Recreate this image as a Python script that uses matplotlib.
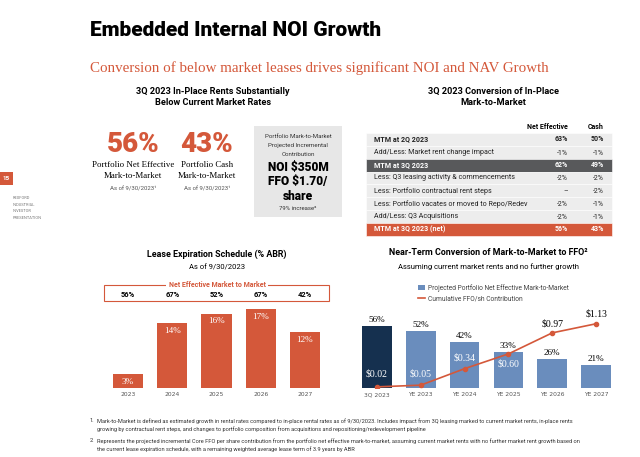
import numpy as np
import matplotlib.pyplot as plt
import matplotlib.transforms as mtransforms
from matplotlib.patches import Rectangle, Patch
from matplotlib.lines import Line2D

# --- data -------------------------------------------------------------
headline_values = ["56%", "43%"]
headline_labels = [("Portfolio Net Effective", "Mark-to-Market"),
                   ("Portfolio Cash", "Mark-to-Market")]

table_labels = [
    "MTM at 2Q 2023",
    "Add/Less: Market rent change impact",
    "MTM at 3Q 2023",
    "Less: Q3 leasing activity & commencements",
    "Less: Portfolio contractual rent steps",
    "Less: Portfolio vacates or moved to Repo/Redev",
    "Add/Less: Q3 Acquisitions",
    "MTM at 3Q 2023 (net)",
]
table_net = ["63%", "-1%", "62%", "-2%", "\u2013", "-2%", "-2%", "56%"]
table_cash = ["50%", "-1%", "49%", "-2%", "-2%", "-1%", "-1%", "43%"]
table_kind = ["bold", "plain", "dark", "plain", "plain", "plain", "plain", "accent"]

lease_years = ["2023", "2024", "2025", "2026", "2027"]
lease_abr = [3, 14, 16, 17, 12]
lease_mtm = [56, 67, 52, 67, 42]

conv_periods = ["3Q 2023", "YE 2023", "YE 2024", "YE 2025", "YE 2026", "YE 2027"]
conv_mtm = [56, 52, 42, 33, 26, 21]
conv_ffo = [0.02, 0.05, 0.34, 0.60, 0.97, 1.13]

footnotes = [
    ("1.", ["Mark-to-Market is defined as estimated growth in rental rates compared to in-place rental rates as of 9/30/2023. "
            "Includes impact from 3Q leasing marked to current market rents, in-place rents",
            "growing by contractual rent steps, and changes to portfolio composition from acquisitions and "
            "repositioning/redevelopment pipeline"]),
    ("2.", ["Represents the projected incremental Core FFO per share contribution from the portfolio net effective "
            "mark-to-market, assuming current market rents with no further market rent growth based on",
            "the current lease expiration schedule, with a remaining weighted average lease term of 3.9 years by ABR"]),
]

# --- style ------------------------------------------------------------
ORANGE = "#D4583A"
NAVY = "#15304F"
STEEL = "#6A8DBD"
DARK = "#58595B"
LIGHT = "#EDEDED"
GREY_TXT = "#555555"
SANS = ["Roboto", "DejaVu Sans"]
SERIF = ["Liberation Serif", "DejaVu Serif"]

W, H = 640, 457
fig = plt.figure(figsize=(6.4, 4.57), dpi=100)


def put(x, y, s, size, color="black", weight="normal", family=SANS,
        ha="center", va="center", **kw):
    return fig.text(x / W, 1 - y / H, s, fontsize=size, color=color,
                    fontweight=weight, family=family, ha=ha, va=va, **kw)


def box(x0, y0, x1, y1, **kw):
    fig.add_artist(Rectangle((x0 / W, 1 - y1 / H), (x1 - x0) / W, (y1 - y0) / H,
                             transform=fig.transFigure, **kw))


# titles
put(90, 31, "Embedded Internal NOI Growth", 15, weight="black", ha="left")
put(90, 68, "Conversion of below market leases drives significant NOI and NAV Growth",
    10.8, color=ORANGE, family=SERIF, ha="left")

# sidebar
box(0, 172, 13, 185, color=ORANGE, lw=0)
put(6.5, 178.5, "15", 4.5, color="white", weight="bold")
for i, w in enumerate(["REXFORD", "INDUSTRIAL", "INVESTOR", "PRESENTATION"]):
    put(13, 198 + i * 6.6, w, 2.9, color="#777777", ha="left")

# --- headline MTM -----------------------------------------------------
put(213, 97, "3Q 2023 In-Place Rents Substantially\nBelow Current Market Rates",
    6.6, weight="bold", linespacing=1.25)
for cx, val, (l1, l2) in zip([133, 207], headline_values, headline_labels):
    put(cx, 145, val, 20, color=ORANGE, weight="black")
    put(cx, 165, l1, 6.4, family=SERIF)
    put(cx, 176, l2, 6.4, family=SERIF)
    put(cx, 189, "As of 9/30/2023\u00b9", 4.3, color=GREY_TXT)

box(254, 126, 342, 217, color="#E7E7E7", lw=0)
put(298, 136, "Portfolio Mark-to-Market", 4.4, color="#333333")
put(298, 145, "Projected Incremental", 4.4, color="#333333")
put(298, 154, "Contribution", 4.4, color="#333333")
put(298, 167.5, "NOI $350M", 8.6, weight="black")
put(298, 182, "FFO $1.70/", 8.6, weight="black")
put(298, 196, "share", 8.6, weight="black")
put(298, 208.5, "79% increase\u00b2", 4.3, color="#333333")

# --- table ------------------------------------------------------------
put(493, 97, "3Q 2023 Conversion of In-Place\nMark-to-Market", 6.6,
    weight="bold", linespacing=1.25)
put(568, 127, "Net Effective", 5.0, weight="bold", ha="right")
put(604, 127, "Cash", 5.0, weight="bold", ha="right")
row_h = 12.85
top = 133
for i, (lab, net, cash, kind) in enumerate(zip(table_labels, table_net, table_cash, table_kind)):
    y0 = top + i * row_h
    fill = {"dark": DARK, "accent": ORANGE}.get(kind, LIGHT)
    box(366, y0, 612, y0 + row_h, facecolor=fill, edgecolor="white", lw=0.4)
    col = "white" if kind in ("dark", "accent") else "#222222"
    wt = "normal" if kind == "plain" else "bold"
    yc = y0 + row_h / 2
    put(374, yc, lab, 5.15, color=col, weight=wt, ha="left")
    put(568, yc + (1 if kind == "plain" else 0), net, 5.0, color=col, weight=wt, ha="right")
    put(604, yc + (1 if kind == "plain" else 0), cash, 5.0, color=col, weight=wt, ha="right")

# --- lease expiration chart --------------------------------------------
put(217, 254, "Lease Expiration Schedule (% ABR)", 6.4, weight="bold")
put(217, 267, "As of 9/30/2023", 5.5)

ax1 = fig.add_axes([106 / W, 1 - 388 / H, 221 / W, 85 / H])
x1 = np.arange(len(lease_years))
bars1 = ax1.bar(x1, lease_abr, width=0.68, color=ORANGE)
ax1.set_xlim(-0.5, len(lease_years) - 0.5)
ax1.set_ylim(0, 18.36)
for b, v in zip(bars1, lease_abr):
    ax1.annotate(f"{v}%", (b.get_x() + b.get_width() / 2, v), xytext=(0, -2.5),
                 textcoords="offset points", ha="center", va="top",
                 color="white", fontsize=6.6, family=SERIF)
ax1.set_xticks(x1, lease_years)
ax1.tick_params(axis="x", length=0, pad=3, labelsize=4.3, labelcolor=GREY_TXT)
ax1.set_yticks([])
for s in ax1.spines.values():
    s.set_visible(False)

box(104, 285, 329, 301, fill=False, edgecolor=ORANGE, lw=0.8)
put(217, 285, "Net Effective Market to Market", 5.0, color=ORANGE, weight="bold",
    bbox=dict(facecolor="white", edgecolor="none", pad=1.5))
tr1 = mtransforms.blended_transform_factory(ax1.transData, fig.transFigure)
for i, v in enumerate(lease_mtm):
    ax1.text(i, 1 - 295 / H, f"{v}%", transform=tr1, ha="center", va="center",
             fontsize=5.4, fontweight="bold", family=SANS)

# --- conversion chart ---------------------------------------------------
put(488, 253, "Near-Term Conversion of Mark-to-Market to FFO\u00b2", 6.4, weight="bold")
put(488, 267, "Assuming current market rents and no further growth", 5.5)

ax2 = fig.add_axes([355 / W, 1 - 388 / H, 263 / W, 83 / H])
x2 = np.arange(len(conv_periods))
bar_colors = [NAVY] + [STEEL] * (len(conv_periods) - 1)
bars2 = ax2.bar(x2, conv_mtm, width=0.68, color=bar_colors)
ax2.set_xlim(-0.5, len(conv_periods) - 0.5)
ax2.set_ylim(0, 75.5)
for b, v in zip(bars2, conv_mtm):
    ax2.annotate(f"{v}%", (b.get_x() + b.get_width() / 2, v), xytext=(0, 1.5),
                 textcoords="offset points", ha="center", va="bottom",
                 fontsize=6.6, family=SERIF)
ax2.set_xticks(x2, conv_periods)
ax2.tick_params(axis="x", length=0, pad=3, labelsize=4.3, labelcolor=GREY_TXT)
ax2.set_yticks([])
for s in ax2.spines.values():
    s.set_visible(False)

ax3 = ax2.twinx()
ax3.plot(x2, conv_ffo, color=ORANGE, lw=1.2, marker="o", ms=3)
ax3.set_ylim(0, 1.46)
ax3.set_yticks([])
for s in ax3.spines.values():
    s.set_visible(False)
label_dy = [9, 8, 8, -7, 6.5, 7]
label_col = ["white", "white", "white", "white", "black", "black"]
for xi, v, dy, c in zip(x2, conv_ffo, label_dy, label_col):
    ax3.annotate(f"${v:.2f}", (xi, v), xytext=(0, dy), textcoords="offset points",
                 ha="center", va="center", color=c, fontsize=7, family=SERIF)

handles = [Patch(facecolor=STEEL, edgecolor="none"),
           Line2D([], [], color=ORANGE, lw=1.2)]
fig.legend(handles, ["Projected Portfolio Net Effective Mark-to-Market",
                     "Cumulative FFO/sh Contribution"],
           loc="center left", bbox_to_anchor=(415 / W, 1 - 293.5 / H), frameon=False,
           fontsize=4.8, handlelength=1.0, handleheight=0.8, handletextpad=0.5,
           labelspacing=0.6, borderpad=0, prop={"family": SANS, "size": 4.8},
           labelcolor="#444444")

# --- footnotes -----------------------------------------------------------
for (num, lines), y in zip(footnotes, [421, 441]):
    put(90, y, num, 4.1, color="#333333", ha="left")
    for k, line in enumerate(lines):
        put(97, y + k * 8.5, line, 4.1, color="#333333", ha="left")

fig.savefig("out.png", dpi=100)
